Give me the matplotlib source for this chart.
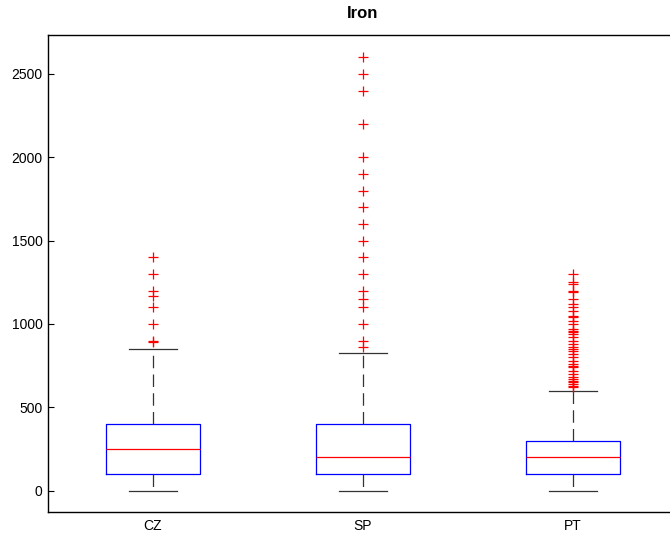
import matplotlib.pyplot as plt

plt.rcParams['font.family'] = ['Liberation Sans', 'DejaVu Sans']

# iron concentration summary per country
countries = ['CZ', 'SP', 'PT']
q1 = [100, 100, 100]
median = [250, 200, 200]
q3 = [400, 400, 300]
whisker_low = [0, 0, 0]
whisker_high = [850, 825, 600]

outliers_cz = [1400, 1300, 1200, 1170, 1100, 1000, 900, 890]
outliers_sp = [2600, 2500, 2400, 2200, 2000, 1900, 1800, 1700, 1600,
               1500, 1400, 1300, 1200, 1150, 1100, 1000, 900, 860]
outliers_pt = [1300, 1250, 1240, 1200, 1190, 1150, 1120, 1100, 1080,
               1050, 1040, 1020, 1000, 970, 960, 950, 940, 920, 900,
               880, 860, 850, 840, 820, 800, 780, 760, 750, 740, 720,
               700, 680, 670, 660, 650, 640, 630, 620]
outliers = [outliers_cz, outliers_sp, outliers_pt]

stats = []
for i, name in enumerate(countries):
    stats.append({
        'label': name,
        'med': median[i],
        'q1': q1[i],
        'q3': q3[i],
        'whislo': whisker_low[i],
        'whishi': whisker_high[i],
        'fliers': outliers[i],
    })

fig = plt.figure(figsize=(6.7, 5.35), dpi=100)
ax = fig.add_axes([0.0716, 0.0424, 0.9404, 0.8922])

ax.bxp(
    stats,
    positions=[1, 2, 3],
    widths=0.452,
    boxprops=dict(color='#0000ff', linewidth=0.9),
    medianprops=dict(color='#ff0000', linewidth=0.9),
    whiskerprops=dict(color='#333333', linewidth=0.9, linestyle=(0, (10, 5))),
    capprops=dict(color='#333333', linewidth=0.9),
    capwidths=0.225,
    flierprops=dict(marker='+', markeredgecolor='#ff0000', markersize=7,
                    markeredgewidth=0.9, linestyle='none'),
)

ax.set_xlim(0.5, 3.5)
ax.set_ylim(-130, 2734)
ax.set_yticks([0, 500, 1000, 1500, 2000, 2500])
ax.set_xticks([1, 2, 3])
ax.set_xticklabels(countries)
ax.tick_params(axis='y', direction='in', length=4, width=0.8, labelsize=10, pad=4)
ax.tick_params(axis='x', direction='in', length=0, labelsize=10, pad=5)
for spine in ax.spines.values():
    spine.set_linewidth(1.0)

ax.set_title('Iron', fontsize=12, fontweight='bold', pad=12)

fig.savefig('out.png', dpi=100)
